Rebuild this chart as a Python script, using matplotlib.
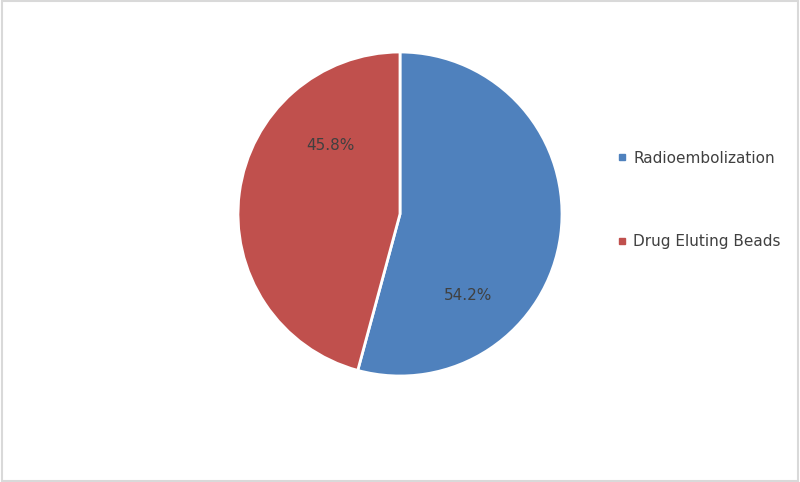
import matplotlib.pyplot as plt
from matplotlib.lines import Line2D
from matplotlib.patches import Rectangle

categories = ["Radioembolization", "Drug Eluting Beads"]
shares = [54.2, 45.8]
colors = ["#4F81BD", "#C0504D"]
pct_labels = ["54.2%", "45.8%"]

fig = plt.figure(figsize=(8, 4.82), dpi=100)
fig.patch.set_facecolor("white")
fig.patches.append(Rectangle((0.002, 0.003), 0.996, 0.994, transform=fig.transFigure,
                             fill=False, edgecolor="#D9D9D9", linewidth=1.5))

ax = fig.add_axes([0.2975, 0.2199, 0.405, 0.6722])
wedges, _ = ax.pie(shares, colors=colors, startangle=90, counterclock=False,
                   radius=1, wedgeprops=dict(edgecolor="white", linewidth=2))
ax.set_xlim(-1, 1)
ax.set_ylim(-1, 1)
ax.set_aspect("equal")

# label spots (Excel best-fit positions)
label_pos = [(0.42, -0.50), (-0.43, 0.42)]
for txt, (x, y) in zip(pct_labels, label_pos):
    ax.text(x, y, txt, ha="center", va="center", fontsize=11, color="#404040")

handles = [Line2D([], [], marker="s", linestyle="none", markersize=5,
                  markerfacecolor=c, markeredgecolor=c) for c in colors]
fig.legend(handles, categories, loc="upper left", bbox_to_anchor=(0.755, 0.716),
           frameon=False, fontsize=11, labelcolor="#404040", handlelength=0.6,
           handletextpad=0.4, labelspacing=4.5)

fig.savefig("out.png", dpi=100)
